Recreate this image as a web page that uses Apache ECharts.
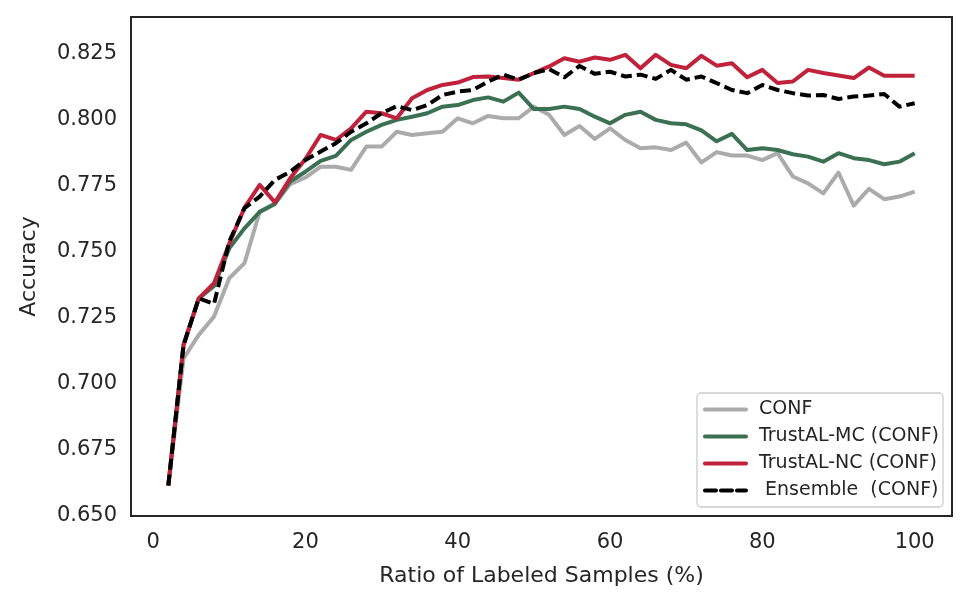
<!DOCTYPE html>
<html>
<head>
<meta charset="utf-8">
<script src="https://cdn.jsdelivr.net/npm/echarts@6/dist/echarts.min.js"></script>
<style>html,body{margin:0;padding:0;background:#fff;}#c{width:969px;height:604px;}</style>
</head>
<body>
<div id="c"></div>
<script>
var ratios = [2,4,6,8,10,12,14,16,18,20,22,24,26,28,30,32,34,36,38,40,42,44,46,48,50,52,54,56,58,60,62,64,66,68,70,72,74,76,78,80,82,84,86,88,90,92,94,96,98,100];
var conf = [0.6615,0.7096,0.7185,0.7254,0.7399,0.7456,0.7651,0.7683,0.7755,0.7780,0.7821,0.7821,0.7809,0.7897,0.7897,0.7953,0.7941,0.7947,0.7953,0.8004,0.7985,0.8013,0.8004,0.8004,0.8048,0.8017,0.7941,0.7975,0.7926,0.7966,0.7922,0.7891,0.7894,0.7884,0.7912,0.7837,0.7876,0.7863,0.7863,0.7846,0.7872,0.7784,0.7758,0.7720,0.7799,0.7674,0.7737,0.7698,0.7708,0.7727];
var trustMC = [0.6615,0.7147,0.7323,0.7370,0.7512,0.7588,0.7650,0.7680,0.7765,0.7802,0.7843,0.7862,0.7922,0.7953,0.7979,0.7998,0.8010,0.8023,0.8048,0.8054,0.8073,0.8083,0.8067,0.8101,0.8039,0.8039,0.8048,0.8039,0.8010,0.7985,0.8017,0.8029,0.7998,0.7985,0.7981,0.7958,0.7917,0.7945,0.7884,0.7891,0.7884,0.7868,0.7859,0.7840,0.7872,0.7853,0.7846,0.7830,0.7840,0.7872];
var trustNC = [0.6615,0.7147,0.7323,0.7380,0.7530,0.7666,0.7752,0.7686,0.7777,0.7850,0.7941,0.7922,0.7966,0.8029,0.8023,0.8004,0.8080,0.8111,0.8130,0.8139,0.8160,0.8162,0.8156,0.8150,0.8175,0.8200,0.8231,0.8218,0.8234,0.8225,0.8244,0.8193,0.8244,0.8206,0.8193,0.8240,0.8203,0.8212,0.8159,0.8187,0.8137,0.8143,0.8187,0.8175,0.8166,0.8156,0.8196,0.8165,0.8165,0.8165];
var ensemble = [0.6615,0.7147,0.7323,0.7302,0.7538,0.7664,0.7708,0.7771,0.7802,0.7846,0.7878,0.7910,0.7953,0.7985,0.8023,0.8050,0.8035,0.8054,0.8092,0.8105,0.8111,0.8143,0.8169,0.8150,0.8175,0.8190,0.8159,0.8202,0.8172,0.8180,0.8162,0.8169,0.8153,0.8187,0.8150,0.8162,0.8137,0.8111,0.8099,0.8130,0.8111,0.8099,0.8090,0.8092,0.8077,0.8086,0.8090,0.8096,0.8048,0.8061];
var xTicks = [0,20,40,60,80,100];
var yTicks = [0.650,0.675,0.700,0.725,0.750,0.775,0.800,0.825];
var names = ['CONF','TrustAL-MC (CONF)','TrustAL-NC (CONF)',' Ensemble  (CONF)'];

function pairs(vals){ return ratios.map(function(x,i){ return [x, vals[i]]; }); }

var chart = echarts.init(document.getElementById('c'), null, {renderer:'canvas'});
var FONT = 'DejaVu Sans';
var TXT = '#262626';
function line(name, vals, color, type){
  return {
    name: name, type: 'line', data: pairs(vals), symbol: 'none', showSymbol: false,
    lineStyle: {color: color, width: 4, type: type || 'solid', cap: 'butt', join: 'round'},
    itemStyle: {color: color}, animation: false, emphasis: {disabled: true}
  };
}
chart.setOption({
  animation: false,
  backgroundColor: '#ffffff',
  grid: {left: 131, top: 17, right: 17, bottom: 88, show: true, borderColor: TXT, borderWidth: 2, backgroundColor: 'transparent'},
  xAxis: {
    type: 'value', min: -2.9, max: 104.9,
    name: 'Ratio of Labeled Samples (%)', nameLocation: 'middle', nameGap: 49,
    nameTextStyle: {fontFamily: FONT, fontSize: 22, color: TXT},
    axisLine: {show: false}, axisTick: {show: false}, splitLine: {show: false},
    axisLabel: {customValues: xTicks, fontFamily: FONT, fontSize: 21, color: TXT, margin: 16,
      formatter: function(v){ return String(v); }}
  },
  yAxis: {
    type: 'value', min: 0.65, max: 0.8387,
    name: 'Accuracy', nameLocation: 'middle', nameGap: 91,
    nameTextStyle: {fontFamily: FONT, fontSize: 22, color: TXT},
    axisLine: {show: false}, axisTick: {show: false}, splitLine: {show: false},
    axisLabel: {customValues: yTicks, fontFamily: FONT, fontSize: 21, color: TXT, margin: 14,
      formatter: function(v){ return v.toFixed(3); }}
  },
  legend: {
    data: names, orient: 'vertical', right: 26, bottom: 97,
    itemWidth: 41, itemHeight: 14, itemGap: 8,
    padding: [7, 4, 7, 6],
    borderColor: '#cccccc', borderWidth: 1.3, borderRadius: 4,
    backgroundColor: 'rgba(255,255,255,0.8)',
    itemStyle: {opacity: 0},
    lineStyle: {width: 4, cap: 'round'},
    textStyle: {fontFamily: FONT, fontSize: 19, color: TXT, padding: [0, 0, 0, 8]},
    selectedMode: false
  },
  series: [
    line(names[0], conf, '#ababab'),
    line(names[1], trustMC, '#3b7053'),
    line(names[2], trustNC, '#c0223b'),
    line(names[3], ensemble, '#000000', [11, 5])
  ]
});
</script>
</body>
</html>
